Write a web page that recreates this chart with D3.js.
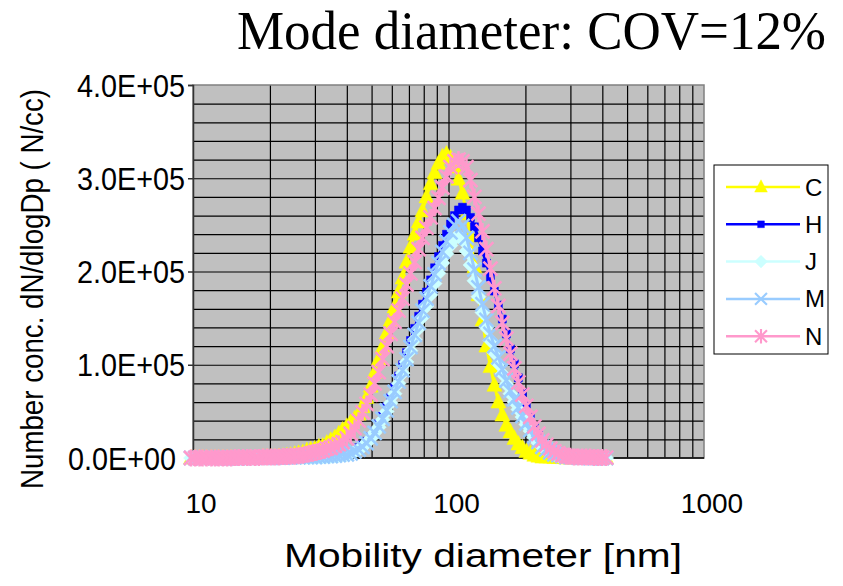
<!DOCTYPE html>
<html>
<head>
<meta charset="utf-8">
<script src="https://cdn.jsdelivr.net/npm/d3@7"></script>
<style>
  body { margin: 0; background: #fff; }
  text { font-family: "Liberation Sans", Arial, sans-serif; fill: #000; }
</style>
</head>
<body>
<svg id="chart" width="843" height="586"></svg>
<script>
// SMPS channel mid-point diameters (nm)
const diameters = [
  9.82, 10.2, 10.6, 10.9, 11.3, 11.8, 12.2, 12.6, 13.1, 13.6,
  14.1, 14.6, 15.1, 15.7, 16.3, 16.8, 17.5, 18.1, 18.8, 19.5,
  20.2, 20.9, 21.7, 22.5, 23.3, 24.1, 25.0, 25.9, 26.9, 27.9,
  28.9, 30.0, 31.1, 32.2, 33.4, 34.6, 35.9, 37.2, 38.5, 40.0,
  41.4, 42.9, 44.5, 46.1, 47.8, 49.6, 51.4, 53.3, 55.2, 57.3,
  59.4, 61.5, 63.8, 66.1, 68.5, 71.0, 73.7, 76.4, 79.1, 82.0,
  85.1, 88.2, 91.4, 94.7, 98.2, 101.8, 105.5, 109.4, 113.4, 117.6,
  121.9, 126.3, 131.0, 135.8, 140.7, 145.9, 151.2, 156.8, 162.5, 168.5,
  174.7, 181.1, 187.7, 194.6, 201.7, 209.1, 216.7, 224.7, 232.9, 241.4,
  250.3, 259.5, 269.0, 278.8, 289.0, 299.6, 310.6, 322.0, 333.8, 346.0,
  358.7, 371.8, 385.4, 399.5, 414.2
];

// dN/dlogDp in thousands of N/cc
const valsC = [
  0, 0, 0, 0, 0, 0, 0, 0, 0, 0,
  0, 0, 0, 0.5, 0.5, 0.5, 0.5, 0.5, 1, 1,
  1, 1, 1.5, 2, 2.5, 3, 4, 5, 6, 8,
  9, 10, 12, 13, 16, 19, 22, 26, 30, 34,
  38, 42, 47, 55, 65, 77, 92, 106, 119, 134,
  148, 162, 178, 193, 210, 226, 240, 253, 265, 280,
  294, 306, 316, 323, 326, 322, 312, 299, 284, 262,
  238, 205, 175, 148, 120, 98, 78, 60, 46, 35,
  28, 21, 15, 11, 7, 5, 3, 2, 1, 1,
  1, 0.5, 0.5, 0.5, 0, 0, 0, 0, 0, 0,
  0, 0, 0, 0, 0
];
const valsH = [
  0, 0, 0, 0, 0, 0, 0, 0, 0, 0,
  0, 0, 0, 0.5, 0.5, 0.5, 0.5, 0.5, 0.5, 0.5,
  0.5, 0.5, 0.5, 1, 1, 1, 1, 1, 1.5, 1.5,
  1.5, 2, 2, 2, 2.5, 2.5, 3, 3.5, 4, 5,
  6, 8, 11, 14, 18, 23, 29, 37, 45, 55,
  65, 76, 88, 100, 113, 126, 139, 152, 165, 178,
  191, 204, 216, 228, 240, 251, 260, 266, 269, 266,
  258, 248, 236, 222, 209, 194, 179, 164, 149, 133,
  117, 101, 86, 70, 56, 44, 34, 26, 19, 14,
  10, 7, 5, 3, 2, 1, 1, 1, 0.5, 0.5,
  0.5, 0.5, 0, 0, 0
];
const valsJ = [
  0, 0, 0, 0, 0, 0, 0, 0, 0, 0,
  0, 0, 0, 0, 0.5, 0.5, 0.5, 0.5, 0.5, 0.5,
  0.5, 0.5, 0.5, 0.5, 1, 1, 1, 1, 1, 1,
  1, 1, 1.5, 1.5, 2, 2, 2.5, 3, 3.5, 4,
  5, 7, 9, 12, 16, 21, 27, 33, 41, 50,
  59, 69, 80, 91, 103, 115, 127, 139, 151, 163,
  175, 187, 198, 209, 219, 228, 235, 238, 234, 222,
  207, 190, 173, 156, 140, 126, 113, 101, 90, 79,
  69, 60, 52, 44, 36, 29, 22, 16, 12, 8,
  6, 4, 3, 2, 1, 1, 1, 0.5, 0.5, 0.5,
  0, 0, 0, 0, 0
];
const valsM = [
  0, 0, 0, 0, 0, 0, 0, 0, 0, 0,
  0, 0, 0, 0, 0.5, 0.5, 0.5, 0.5, 0.5, 0.5,
  0.5, 0.5, 0.5, 0.5, 1, 1, 1, 1, 1, 1,
  1, 1, 1.5, 1.5, 2, 2, 2.5, 3, 3.5, 4,
  5, 7, 9, 12, 16, 21, 27, 34, 42, 51,
  61, 71, 82, 94, 106, 119, 132, 145, 158, 171,
  184, 197, 209, 221, 232, 242, 250, 254, 249, 236,
  220, 202, 183, 165, 148, 133, 120, 108, 95, 83,
  72, 63, 54, 45, 37, 30, 23, 17, 12, 9,
  6, 4, 3, 2, 1, 1, 1, 0.5, 0.5, 0.5,
  0, 0, 0, 0, 0
];
const valsN = [
  0, 0, 0, 0, 0, 0, 0, 0, 0, 0,
  0, 0.5, 0.5, 0.5, 0.5, 0.5, 0.5, 0.5, 1, 1,
  1, 1, 1, 1.5, 1.5, 2, 2, 2.5, 3, 4,
  5, 6, 7, 8, 10, 11, 13, 15, 17, 21,
  26, 32, 40, 49, 58, 68, 80, 92, 106, 120,
  133, 146, 158, 171, 186, 198, 210, 224, 236, 247,
  258, 268, 279, 290, 302, 312, 318, 320, 318, 312,
  298, 280, 262, 243, 224, 203, 182, 163, 145, 128,
  112, 96, 81, 68, 56, 44, 34, 26, 19, 14,
  10, 7, 5, 3, 2, 2, 1, 1, 1, 1,
  1, 0.5, 0.5, 0.5, 0.5
];

const seriesNames = ["C", "H", "J", "M", "N"];
const seriesVals = [valsC, valsH, valsJ, valsM, valsN];
const seriesColors = ["#ffff00", "#0000ff", "#ccffff", "#99ccff", "#ff99cc"];
const seriesMarkers = ["triangle", "square", "diamond", "x", "star"];

const yMajorTicks = [0, 100000, 200000, 300000, 400000];
const yTickLabels = ["0.0E+00", "1.0E+05", "2.0E+05", "3.0E+05", "4.0E+05"];
const xMajorTicks = [10, 100, 1000];
const xTickLabels = ["10", "100", "1000"];

const title = "Mode diameter: COV=12%";
const xTitle = "Mobility diameter [nm]";
const yTitle = "Number conc. dN/dlogDp ( N/cc)";
const UNIT = 1000;

const plot = { left: 193, right: 704, top: 85, bottom: 458 };
const svg = d3.select("#chart");

const x = d3.scaleLog().domain([10, 1000]).range([plot.left, plot.right]);
const y = d3.scaleLinear().domain([0, 400000]).range([plot.bottom, plot.top]);

// plot area
svg.append("rect")
  .attr("x", plot.left).attr("y", plot.top)
  .attr("width", plot.right - plot.left).attr("height", plot.bottom - plot.top)
  .attr("fill", "#c0c0c0");

// horizontal grid every 2E+04
svg.append("g")
  .attr("transform", `translate(${plot.left},0)`)
  .call(d3.axisLeft(y).tickValues(d3.range(20000, 400000, 20000)).tickSize(-(plot.right - plot.left)).tickFormat(""))
  .call(g => g.select(".domain").remove())
  .call(g => g.selectAll("line").attr("stroke", "#000").attr("stroke-width", 1.2));

// vertical grid 1..9 per decade
svg.append("g")
  .attr("transform", `translate(0,${plot.bottom})`)
  .call(d3.axisBottom(x).tickValues(x.ticks().filter(v => v > 10 && v < 1000)).tickSize(-(plot.bottom - plot.top)).tickFormat(""))
  .call(g => g.select(".domain").remove())
  .call(g => g.selectAll("line").attr("stroke", "#000").attr("stroke-width", 1.2));

// frame
svg.append("rect")
  .attr("x", plot.left).attr("y", plot.top)
  .attr("width", plot.right - plot.left).attr("height", plot.bottom - plot.top)
  .attr("fill", "none").attr("stroke", "#808080").attr("stroke-width", 1.5);

// left axis with major ticks
svg.append("g")
  .attr("transform", `translate(${plot.left},0)`)
  .call(d3.axisLeft(y).tickValues(yMajorTicks).tickSize(5).tickFormat(""))
  .call(g => g.selectAll("line, path").attr("stroke", "#333").attr("stroke-width", 1.5));

// bottom axis line
svg.append("line")
  .attr("x1", plot.left).attr("x2", plot.right)
  .attr("y1", plot.bottom).attr("y2", plot.bottom)
  .attr("stroke", "#000").attr("stroke-width", 1.5);

// y tick labels
svg.append("g").selectAll("text")
  .data(yMajorTicks)
  .join("text")
  .attr("x", d => d === 0 ? 176 : 185)
  .attr("y", d => y(d) + 11.5)
  .attr("text-anchor", "end")
  .attr("font-size", 32)
  .attr("textLength", 108)
  .attr("lengthAdjust", "spacingAndGlyphs")
  .text((d, i) => yTickLabels[i]);

// x tick labels
svg.append("g").selectAll("text")
  .data(xMajorTicks)
  .join("text")
  .attr("x", d => x(d) + 8)
  .attr("y", 513)
  .attr("text-anchor", "middle")
  .attr("font-size", 28)
  .text((d, i) => xTickLabels[i]);

// markers
function markerPath(type) {
  switch (type) {
    case "triangle": return "M0,-8.5L7.5,6L-7.5,6Z";
    case "square": return "M-4,-4h8v8h-8Z";
    case "diamond": return "M0,-7.5L7.5,0L0,7.5L-7.5,0Z";
    case "x": return "M-7,-7L7,7M-7,7L7,-7";
    case "star": return "M-7,-7L7,7M-7,7L7,-7M0,-8.5V8.5";
  }
}
function drawMarker(sel, type, color, scale) {
  const filled = type === "triangle" || type === "square" || type === "diamond";
  sel.append("path")
    .attr("d", markerPath(type))
    .attr("transform", scale ? `scale(${scale})` : null)
    .attr("fill", filled ? color : "none")
    .attr("stroke", color)
    .attr("stroke-width", filled ? 0.5 : 2.5);
}

const line = d3.line()
  .x(d => x(d[0]))
  .y(d => y(d[1] * UNIT));

seriesNames.forEach((name, si) => {
  const pts = diameters.map((d, i) => [d, seriesVals[si][i]]);
  const g = svg.append("g").attr("class", "series-" + name);
  g.append("path")
    .datum(pts)
    .attr("d", line)
    .attr("fill", "none")
    .attr("stroke", seriesColors[si])
    .attr("stroke-width", 3);
  g.selectAll("g.pt")
    .data(pts)
    .join("g")
    .attr("class", "pt")
    .attr("transform", d => `translate(${x(d[0])},${y(d[1] * UNIT)})`)
    .each(function() { drawMarker(d3.select(this), seriesMarkers[si], seriesColors[si]); });
});

// legend
const legend = svg.append("g");
legend.append("rect")
  .attr("x", 714).attr("y", 165).attr("width", 114).attr("height", 189)
  .attr("fill", "#fff").attr("stroke", "#000").attr("stroke-width", 1);
seriesNames.forEach((name, i) => {
  const ly = 187 + i * 37.3;
  legend.append("line")
    .attr("x1", 726).attr("x2", 800).attr("y1", ly).attr("y2", ly)
    .attr("stroke", seriesColors[i]).attr("stroke-width", 2.5);
  drawMarker(legend.append("g").attr("transform", `translate(761,${ly})`), seriesMarkers[i], seriesColors[i], 0.85);
  legend.append("text")
    .attr("x", 805).attr("y", ly + 8.5)
    .attr("font-size", 24)
    .text(name);
});

// titles
svg.append("text")
  .attr("x", 237).attr("y", 49)
  .style("font-family", "'Liberation Serif', 'Times New Roman', serif")
  .attr("font-size", 54)
  .attr("textLength", 589)
  .attr("lengthAdjust", "spacingAndGlyphs")
  .text(title);

svg.append("text")
  .attr("x", 284).attr("y", 567)
  .attr("font-size", 34)
  .attr("textLength", 398)
  .attr("lengthAdjust", "spacingAndGlyphs")
  .text(xTitle);

svg.append("text")
  .attr("transform", "translate(43,289) rotate(-90)")
  .attr("text-anchor", "middle")
  .attr("font-size", 32)
  .attr("textLength", 400)
  .attr("lengthAdjust", "spacingAndGlyphs")
  .text(yTitle);
</script>
</body>
</html>
